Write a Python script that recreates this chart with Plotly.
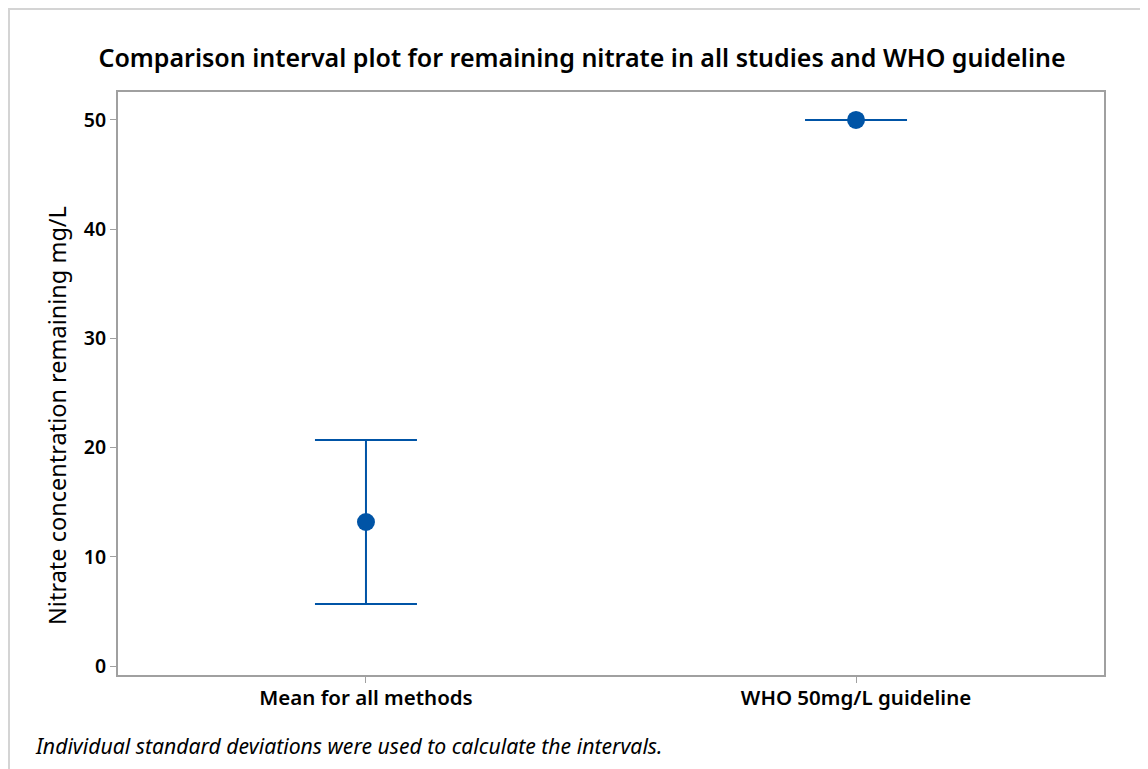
import plotly.graph_objects as go

categories = ["Mean for all methods", "WHO 50mg/L guideline"]
means = [13.19, 50.0]
half_intervals = [7.51, 0.0]
y_ticks = [0, 10, 20, 30, 40, 50]

title_text = "Comparison interval plot for remaining nitrate in all studies and WHO guideline"
y_title = "Nitrate concentration remaining mg/L"
footnote = "Individual standard deviations were used to calculate the intervals."

BLUE = "#0054A6"
FRAME = "#A0A0A0"
FONT = "Noto Sans"

fig = go.Figure()
fig.add_trace(go.Scatter(
    x=categories, y=means, mode="markers",
    marker=dict(color=BLUE, size=18),
    error_y=dict(type="data", array=half_intervals, symmetric=True,
                 color=BLUE, thickness=2, width=51),
    showlegend=False,
))

# page has an 8px body margin, so the figure is drawn 8px in from the top-left
W, H = 1140, 761
l, r, t, b = 110, 44, 84, 94
pw, ph = W - l - r, H - t - b

def px(x):
    return (x - l) / pw

def py(y):
    return (H - b - y) / ph

fig.update_layout(
    width=W, height=H,
    margin=dict(l=l, r=r, t=t, b=b, pad=0),
    paper_bgcolor="white", plot_bgcolor="white",
    font=dict(family=FONT, color="black"),
    title=dict(text=title_text, x=574 / W, xanchor="center", xref="container",
               y=1 - 50 / H, yanchor="middle", yref="container",
               font=dict(size=25, family=FONT, weight=600, color="black")),
    xaxis=dict(type="category", range=[-0.506, 1.506],
               showline=True, linecolor=FRAME, linewidth=2, mirror=True,
               ticks="outside", ticklen=6, tickcolor=FRAME, tickwidth=1,
               ticklabelstandoff=-3,
               showgrid=False, zeroline=False,
               tickfont=dict(size=20.5, family=FONT, weight=600, color="black")),
    yaxis=dict(range=[-0.82, 52.56], tickvals=y_ticks,
               showline=True, linecolor=FRAME, linewidth=2, mirror=True,
               ticks="outside", ticklen=6, tickcolor=FRAME, tickwidth=1,
               showgrid=False, zeroline=False,
               tickfont=dict(size=19.5, family=FONT, weight=600, color="black")),
    annotations=[
        dict(text=y_title, xref="paper", yref="paper",
             x=px(49), y=py(408), xanchor="center", yanchor="middle",
             textangle=-90, showarrow=False,
             font=dict(size=23.5, family=FONT, color="black")),
        dict(text="<i>" + footnote + "</i>", xref="paper", yref="paper",
             x=px(25), y=py(737), xanchor="left", yanchor="middle",
             showarrow=False, font=dict(size=21.2, family=FONT, color="black")),
    ],
    shapes=[
        dict(type="line", xref="paper", yref="paper",
             x0=px(0), x1=px(W), y0=py(1), y1=py(1),
             line=dict(color="#D4D4D4", width=2)),
        dict(type="line", xref="paper", yref="paper",
             x0=px(1), x1=px(1), y0=py(0), y1=py(H),
             line=dict(color="#D4D4D4", width=2)),
    ],
)

fig.write_html("out.html")
